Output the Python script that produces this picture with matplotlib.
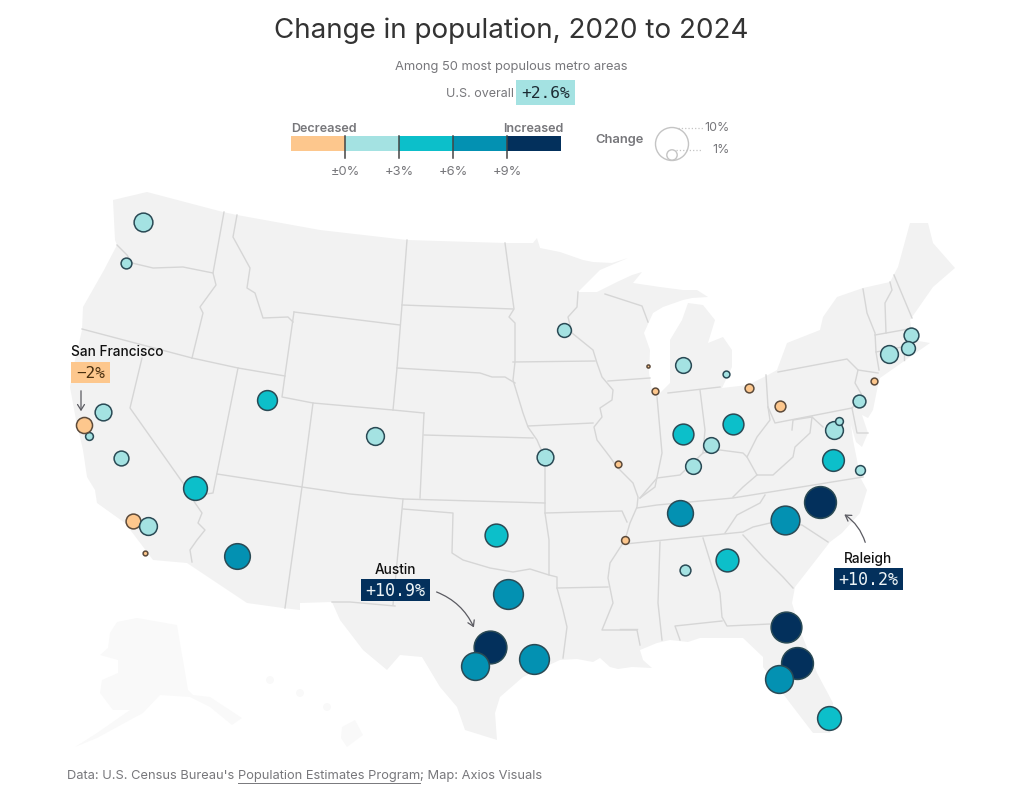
import numpy as np
import matplotlib
matplotlib.use('Agg')
import matplotlib.pyplot as plt
from matplotlib.patches import Polygon, Rectangle, Circle, FancyArrowPatch

# all map stuff is traced in image pixels of the 1024x789 picture
metro = ['Seattle', 'Portland', 'Sacramento', 'San Jose', 'San Francisco', 'Fresno area', 'Los Angeles',
         'Riverside', 'San Diego', 'Las Vegas', 'Phoenix', 'Salt Lake City', 'Denver', 'Minneapolis',
         'Kansas City', 'Oklahoma City', 'Dallas', 'Austin', 'San Antonio', 'Houston', 'Memphis',
         'St. Louis', 'Chicago', 'Milwaukee', 'Grand Rapids', 'Cleveland', 'Detroit', 'Pittsburgh',
         'Columbus', 'Indianapolis', 'Cincinnati', 'Louisville', 'Nashville', 'Charlotte', 'Raleigh',
         'Birmingham', 'Atlanta', 'Jacksonville', 'Orlando', 'Tampa', 'Miami', 'Richmond',
         'Virginia Beach', 'Washington', 'Baltimore', 'Philadelphia', 'New York', 'Hartford', 'Boston',
         'Providence']
metro_x = [143, 126, 103, 89, 84, 121, 133, 148, 145, 195, 237, 267, 375, 564, 545, 496, 508, 490, 475, 534, 625,
           618, 655, 648, 683, 749, 726, 780, 733, 683, 711, 693, 680, 785, 820, 685, 727, 786, 797, 779, 829, 833,
           860, 834, 839, 859, 874, 889, 911, 908]
metro_y = [222, 263, 412, 436, 425, 458, 521, 526, 553, 488, 556, 400, 436, 330, 457, 535, 594, 647, 666, 659, 540,
           464, 391, 366, 365, 388, 374, 406, 424, 434, 445, 466, 513, 520, 502, 570, 560, 627, 663, 679, 718, 460,
           470, 430, 421, 401, 381, 354, 335, 348]
change = [2.9, 0.78, 2.2, 0.36, -2.0, 1.65, -1.65, 2.55, -0.11, 5.1, 6.1, 3.3, 2.55, 1.4, 2.2, 4.6, 8.7, 10.9, 7.4,
          8.7, -0.36, -0.26, -0.26, -0.04, 1.9, -0.48, 0.26, -0.78, 3.7, 3.7, 1.9, 1.9, 6.2, 8.0, 10.2, 0.78, 4.6,
          9.4, 10.2, 7.4, 5.1, 4.1, 0.62, 2.55, 0.36, 1.17, -0.26, 2.55, 1.65, 1.4]

bin_edges = [0, 3, 6, 9]
bin_colors = ['#fdc78d', '#a4e2e2', '#0cbfca', '#0391b2', '#03305c']
tick_labels = ['±0%', '+3%', '+6%', '+9%']

# lower 48 coast + canada border
lower48 = [(147, 192), (113, 200), (115, 240), (117, 245), (104, 270), (83, 307), (82, 330), (75, 360), (70, 387),
           (76, 420), (83, 450), (87, 477), (95, 490), (97, 503), (125, 523), (147, 552), (153, 560), (187, 563),
           (247, 603), (283, 608), (300, 610), (300, 603), (332, 602), (340, 620), (363, 650), (387, 670),
           (400, 655), (422, 657), (440, 687), (457, 707), (465, 730), (497, 740), (495, 713), (500, 697),
           (523, 677), (560, 660), (577, 659), (593, 662), (600, 658), (610, 667), (618, 669), (632, 667),
           (652, 668), (643, 660), (640, 650), (657, 643), (670, 640), (688, 642), (700, 638), (743, 638),
           (763, 657), (763, 667), (790, 703), (813, 733), (830, 733),
           (833, 703), (817, 673), (800, 630), (792, 603), (795, 587), (830, 542), (842, 533), (860, 513),
           (867, 490), (860, 477), (857, 460), (853, 440), (851, 425), (856, 442), (862, 447), (868, 433),
           (862, 415), (868, 418), (873, 410), (878, 385), (880, 378), (930, 343), (913, 340), (910, 320),
           (933, 287), (955, 268), (933, 243), (928, 223), (910, 223), (898, 267), (890, 282), (863, 288),
           (837, 297), (823, 317), (820, 330), (787, 343), (777, 370), (768, 375), (748, 385), (722, 388),
           (732, 367), (732, 350), (723, 337), (708, 343), (715, 320), (703, 305), (688, 303), (682, 320),
           (670, 340), (670, 383), (660, 393), (652, 390), (649, 373), (650, 350), (644, 333), (653, 313),
           (663, 307), (683, 300), (692, 298), (708, 297), (697, 290), (683, 290), (660, 287), (633, 283),
           (642, 272), (632, 275), (617, 282), (597, 292), (578, 292), (600, 270), (628, 258), (612, 263),
           (593, 262), (583, 260), (560, 252), (540, 248), (537, 238), (533, 243),
           (505, 243), (407, 240), (320, 230), (237, 215), (223, 212)]
alaska = [(110, 633), (117, 622), (137, 618), (177, 625), (188, 690), (193, 695), (210, 697), (242, 718), (232, 725),
          (210, 707), (190, 697), (160, 695), (143, 713), (130, 720), (97, 738), (75, 747), (97, 733), (130, 710),
          (113, 710), (100, 693), (102, 680), (118, 673), (118, 660), (100, 655), (108, 648)]
hawaii = [(342, 727), (355, 720), (363, 735), (347, 747), (341, 738)]
hawaii_small = [(270, 680), (300, 693), (327, 707)]

# state lines
borders = [
    [(117, 245), (127, 255), (132, 263), (153, 268), (183, 267), (213, 273)],
    [(224, 212), (213, 273), (216, 285), (200, 307), (203, 313), (192, 358)],
    [(237, 215), (233, 237), (250, 268), (247, 288), (255, 293), (263, 318), (288, 317), (293, 322)],
    [(294, 312), (400, 325)],
    [(294, 312), (285, 375), (282, 397), (313, 403), (393, 410), (424, 413)],
    [(407, 240), (402, 305), (397, 368), (393, 410)],
    [(402, 305), (513, 309)],
    [(397, 368), (480, 373), (492, 377), (505, 377), (515, 383)],
    [(424, 413), (420, 498)],
    [(424, 435), (533, 438)],
    [(505, 243), (510, 280), (514, 309), (509, 317), (515, 323), (515, 362), (513, 380), (523, 413), (528, 427),
     (537, 440), (540, 447), (545, 457), (545, 513), (549, 540), (549, 575), (557, 577), (557, 588), (563, 610),
     (567, 627), (563, 658)],
    [(513, 362), (595, 361)],
    [(528, 426), (593, 423)],
    [(578, 292), (577, 307), (568, 317), (572, 333), (593, 350), (597, 363), (602, 377), (613, 390), (612, 400),
     (600, 408), (602, 417), (594, 427), (597, 440), (610, 457), (617, 467), (633, 483), (638, 497), (637, 507),
     (630, 523), (625, 540), (610, 563), (608, 578), (613, 603), (602, 630), (637, 630), (640, 645)],
    [(608, 381), (650, 378)],
    [(605, 294), (642, 306), (648, 322)],
    [(657, 397), (662, 453), (655, 487), (640, 498)],
    [(668, 393), (720, 387)],
    [(700, 390), (705, 430), (703, 453), (680, 475), (657, 478), (640, 498)],
    [(703, 453), (720, 450), (743, 453), (747, 457), (757, 437), (770, 420), (768, 407), (766, 375)],
    [(768, 407), (775, 423), (852, 408), (857, 433), (868, 433)],
    [(778, 372), (847, 359), (858, 370), (855, 383), (863, 397), (852, 408)],
    [(858, 370), (878, 373)],
    [(792, 430), (793, 420), (812, 417), (823, 427)],
    [(747, 457), (757, 475), (773, 475), (793, 457), (795, 447), (810, 433), (812, 417)],
    [(757, 475), (743, 487), (733, 497)],
    [(637, 508), (657, 505), (733, 498), (863, 477)],
    [(765, 495), (760, 503), (737, 515), (725, 533)],
    [(625, 544), (743, 532), (753, 527), (770, 523), (802, 525), (828, 542)],
    [(743, 535), (763, 557), (783, 577), (793, 588)],
    [(703, 538), (720, 593), (722, 617), (727, 626), (770, 624)],
    [(722, 621), (675, 626), (680, 640)],
    [(660, 542), (658, 603), (662, 640)],
    [(620, 629), (637, 629)],
    [(557, 588), (608, 587)],
    [(545, 513), (622, 511), (627, 522)],
    [(403, 509), (453, 513), (452, 553), (463, 560), (490, 568), (513, 572), (530, 569), (549, 575)],
    [(217, 474), (302, 487), (350, 494), (403, 499), (545, 503)],
    [(403, 499), (393, 605)],
    [(332, 602), (350, 602), (395, 606)],
    [(302, 487), (285, 608)],
    [(313, 403), (302, 487)],
    [(192, 358), (238, 368), (285, 376)],
    [(82, 329), (192, 358)],
    [(238, 368), (217, 473), (213, 493), (200, 495), (193, 500), (202, 513), (198, 523), (205, 530), (197, 540),
     (190, 550), (192, 562)],
    [(142, 358), (130, 408), (183, 483), (193, 500)],
    [(863, 289), (867, 313), (875, 333), (876, 352), (879, 370)],
    [(890, 282), (892, 290), (885, 303), (886, 333)],
    [(894, 275), (912, 318)],
    [(875, 335), (903, 330), (912, 328)],
    [(876, 352), (902, 347)],
    [(904, 343), (904, 360)],
]

LAND = '#f2f2f2'
FAINT = '#f9f9f9'
BORDER = '#d6d6d6'
GREY = '#77777b'
DARK = '#333333'
SANS = 'Inter'
MONO = 'DejaVu Sans Mono'


def to_bin(v):
    return int(np.digitize(v, bin_edges))


def radius(v):
    # bubble radius in px, fitted by eye
    return 6 * abs(v) ** 0.42


def size_pts(r):
    return (2 * r * 0.72) ** 2


fig = plt.figure(figsize=(10.24, 7.89), dpi=100)
ax = fig.add_axes([0, 0, 1, 1])
ax.set_xlim(0, 1024)
ax.set_ylim(789, 0)
ax.axis('off')

####---------map
ax.add_patch(Polygon(lower48, closed=True, fc=LAND, ec='none', zorder=1))
ax.add_patch(Polygon(alaska, closed=True, fc=FAINT, ec='none', zorder=1))
ax.add_patch(Polygon(hawaii, closed=True, fc=FAINT, ec='none', zorder=1))
for hx, hy in hawaii_small:
    ax.add_patch(Circle((hx, hy), 4, fc=FAINT, ec='none', zorder=1))
for line in borders:
    xs, ys = zip(*line)
    ax.plot(xs, ys, color=BORDER, lw=1.0, solid_joinstyle='round', zorder=2)

####---------bubbles, in list order so overlaps stack right
for i in range(len(metro)):
    col = bin_colors[to_bin(change[i])]
    edge = '#2a4a55' if change[i] >= 0 else '#5c4a3a'
    ax.scatter(metro_x[i], metro_y[i], s=size_pts(radius(change[i])), color=col, edgecolors=edge,
               linewidths=1.1, zorder=3 + i * 0.01)

####---------header
ax.text(511, 31, 'Change in population, 2020 to 2024', ha='center', va='center', fontsize=20,
        family=SANS, color=DARK)
ax.text(511, 67, 'Among 50 most populous metro areas', ha='center', va='center', fontsize=9.3,
        family=SANS, color=GREY)
ax.text(514, 94, 'U.S. overall', ha='right', va='center', fontsize=9, family=SANS, color=GREY)
ax.add_patch(Rectangle((516, 80), 59, 25, fc=bin_colors[1], ec='none'))
ax.text(545.5, 93, '+2.6%', ha='center', va='center', fontsize=11.7, family=MONO, color='#1c2b33')

####---------colour legend
tick_x = [345, 399, 453, 507]
seg_x = [291] + tick_x + [561]
for i in range(5):
    ax.add_patch(Rectangle((seg_x[i], 136), seg_x[i + 1] - seg_x[i], 15, fc=bin_colors[i], ec='none', zorder=2))
for tx, lab in zip(tick_x, tick_labels):
    ax.plot([tx, tx], [136, 158], color='#444444', lw=1.1, zorder=3)
    ax.text(tx, 172, lab, ha='center', va='center', fontsize=9.3, family=SANS, color=GREY)
ax.text(291, 129, 'Decreased', ha='left', va='center', fontsize=9.1, family=SANS, color=GREY, weight='semibold')
ax.text(563, 129, 'Increased', ha='right', va='center', fontsize=9.1, family=SANS, color=GREY, weight='semibold')

####---------size legend
ax.text(620, 140, 'Change', ha='center', va='center', fontsize=9.3, family=SANS, color=GREY, weight='semibold')
ax.add_patch(Circle((672, 144), 16.5, fc='none', ec='#c4c4c4', lw=1))
ax.add_patch(Circle((672, 155), 5.2, fc='none', ec='#c4c4c4', lw=1))
ax.plot([678, 704], [128, 128], color='#c4c4c4', lw=0.9, ls=':')
ax.plot([676, 702], [150, 150], color='#c4c4c4', lw=0.9, ls=':')
ax.text(730, 128, '10%', ha='right', va='center', fontsize=9, family=SANS, color=GREY)
ax.text(730, 150, '1%', ha='right', va='center', fontsize=9, family=SANS, color=GREY)

####---------callouts
ax.text(71, 352, 'San Francisco', ha='left', va='center', fontsize=9.8, family=SANS, color='#111111', weight='medium')
ax.add_patch(Rectangle((71, 362), 39, 21, fc=bin_colors[0], ec='none', zorder=4))
ax.text(90.5, 373, '−2%', ha='center', va='center', fontsize=11.5, family=MONO, color='#4a3010', zorder=5)
ax.text(395, 570, 'Austin', ha='center', va='center', fontsize=9.8, family=SANS, color='#111111', weight='medium')
ax.add_patch(Rectangle((361, 579), 69, 22, fc=bin_colors[4], ec='none', zorder=4))
ax.text(395.5, 591, '+10.9%', ha='center', va='center', fontsize=12, family=MONO, color='#eef5f7', zorder=5)
ax.text(868, 559, 'Raleigh', ha='center', va='center', fontsize=9.8, family=SANS, color='#111111', weight='medium')
ax.add_patch(Rectangle((834, 568), 69, 22, fc=bin_colors[4], ec='none', zorder=4))
ax.text(868.5, 580, '+10.2%', ha='center', va='center', fontsize=12, family=MONO, color='#eef5f7', zorder=5)

arrow_kw = dict(arrowstyle='->,head_length=4,head_width=2.5', color='#5b5b62', lw=0.9, zorder=6)
ax.add_patch(FancyArrowPatch((81, 388), (81, 414), **arrow_kw))
ax.add_patch(FancyArrowPatch((434, 591), (475, 630), connectionstyle='arc3,rad=-0.22', **arrow_kw))
ax.add_patch(FancyArrowPatch((866, 545), (842, 513), connectionstyle='arc3,rad=0.2', **arrow_kw))

####---------footer, three pieces because of the underlined link
rend = fig.canvas.get_renderer()
x_now = 67
for piece, link in [("Data: U.S. Census Bureau's ", False), ('Population Estimates Program', True),
                    ('; Map: Axios Visuals', False)]:
    t = ax.text(x_now, 776, piece.replace(' ', '\u00a0'), ha='left', va='center', fontsize=9.25, family=SANS, color=GREY)
    x_end = x_now + t.get_window_extent(rend).width
    if link:
        ax.plot([x_now, x_end], [783, 783], color=GREY, lw=0.7)
    x_now = x_end

fig.savefig('out.png', dpi=100, facecolor='white')
